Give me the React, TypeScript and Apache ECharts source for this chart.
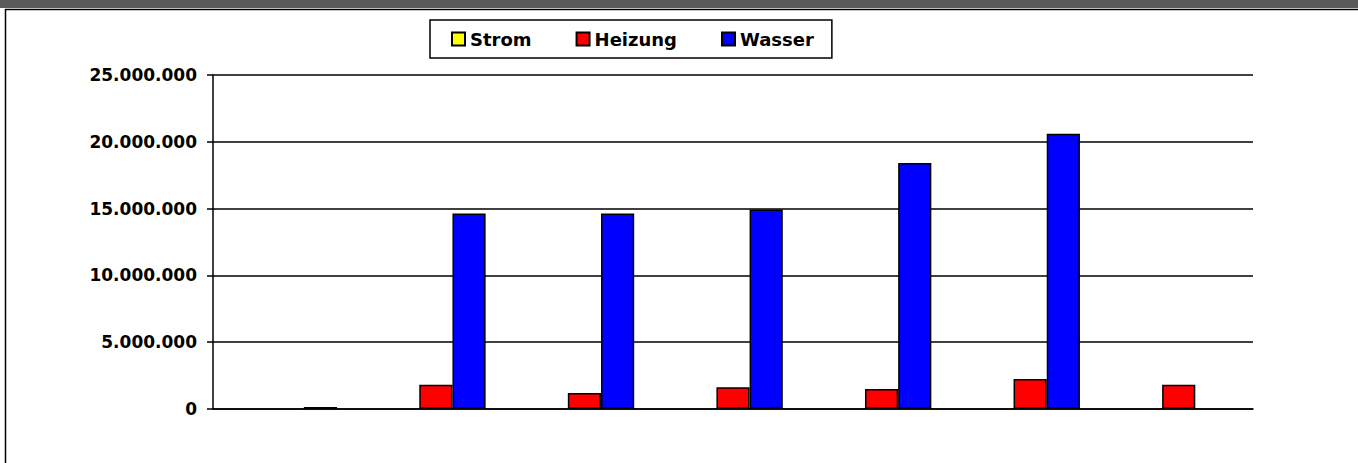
import React, { useEffect, useRef } from "react";
import * as echarts from "echarts";

const categories = ["1", "2", "3", "4", "5", "6", "7"];
const seriesNames = ["Strom", "Heizung", "Wasser"];
const strom: (number | null)[] = [null, null, null, null, null, null, null];
const heizung: (number | null)[] = [null, 1820000, 1200000, 1630000, 1500000, 2250000, 1820000];
const wasser: (number | null)[] = [150000, 14640000, 14640000, 14940000, 18420000, 20600000, null];
const colors = ["#FFFF00", "#FF0000", "#0000FF"];
const yMin = 0;
const yMax = 25000000;
const yInterval = 5000000;

const fmt = (v: number) => String(v).replace(/\B(?=(\d{3})+(?!\d))/g, ".");

export default function App() {
  const ref = useRef<HTMLDivElement>(null);
  useEffect(() => {
    if (!ref.current) return;
    const chart = echarts.init(ref.current, null, { renderer: "svg" });
    const font = "DejaVu Sans";
    const data = [strom, heizung, wasser];
    chart.setOption({
      animation: false,
      backgroundColor: "#ffffff",
      graphic: [
        { type: "rect", shape: { x: 0, y: 0, width: 1358, height: 8 }, style: { fill: "#595959" }, silent: true },
        {
          type: "rect",
          shape: { x: 5.5, y: 9.5, width: 1400, height: 500 },
          style: { fill: "none", stroke: "#000", lineWidth: 1.5 },
          silent: true,
        },
      ],
      legend: {
        left: 430,
        top: 20,
        padding: [10, 18, 10, 21],
        itemGap: 44,
        itemWidth: 13,
        itemHeight: 13,
        icon: "rect",
        borderColor: "#000",
        borderWidth: 1.5,
        backgroundColor: "#fff",
        data: seriesNames,
        textStyle: { fontFamily: font, fontWeight: "bold", fontSize: 18, color: "#000" },
      },
      grid: { left: 213, right: 105, top: 75, bottom: 54, containLabel: false },
      xAxis: {
        type: "category",
        data: categories,
        axisLine: { show: true, lineStyle: { color: "#000", width: 1.5 } },
        axisTick: { show: false },
        axisLabel: { show: false },
      },
      yAxis: {
        type: "value",
        min: yMin,
        max: yMax,
        interval: yInterval,
        axisLine: { show: true, lineStyle: { color: "#000", width: 1.5 } },
        axisTick: { show: true, inside: false, length: 6, lineStyle: { color: "#000", width: 1.5 } },
        splitLine: { show: true, lineStyle: { color: "#000", width: 1.5 } },
        axisLabel: {
          margin: 16,
          formatter: (v: number) => fmt(v),
          fontFamily: font,
          fontWeight: "bold",
          fontSize: 17,
          color: "#000",
        },
      },
      series: seriesNames.map((name, i) => ({
        name,
        type: "bar",
        data: data[i],
        barGap: "0%",
        barCategoryGap: "33%",
        itemStyle: { color: colors[i], borderColor: "#000", borderWidth: 1.5 },
      })),
    });
    return () => chart.dispose();
  }, []);
  return (
    <div
      ref={ref}
      style={{ position: "fixed", left: 0, top: 0, width: 1358, height: 463 }}
    />
  );
}
